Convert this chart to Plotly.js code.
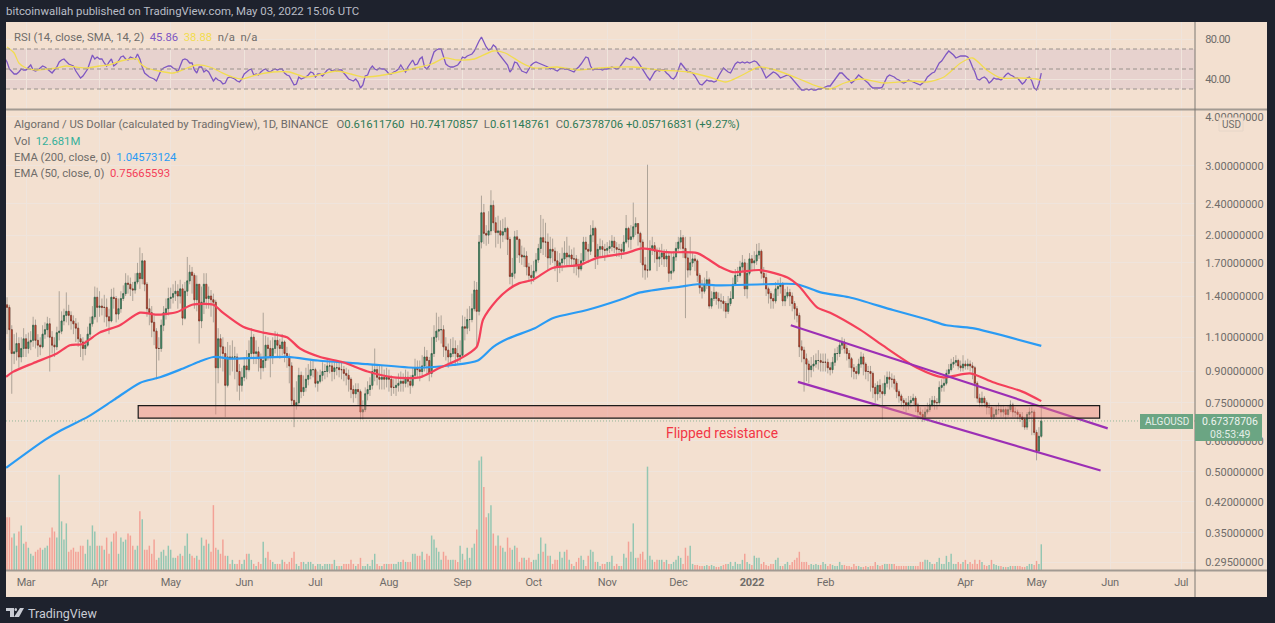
<!--Algorand / US Dollar daily chart, TradingView look, drawn with Plotly-->
<html>
<head>
<script src="https://cdn.plot.ly/plotly-3.0.1.min.js"></script>
<style>
body{margin:0;background:#1e222d;}
/* the reference axis digits are narrower than any installed font */
.yaxislayer-above text{letter-spacing:-0.6px;}
.xaxislayer-above text{letter-spacing:-0.2px;}
</style>
</head>
<body>
<div id="chart"></div>
<script>
// Daily candles, first one is 2021-02-20, one value per day, one line per month
var firstDay = "2021-02-20";
var firstOpen = 1.30;
var closes = [
1.33,1.31,1.15,1.00,1.01,1.06,.98,1.03,1.09,
1.03,1.07,1.08,1.18,1.08,1.05,1.04,1.12,1.15,1.19,1.10,1.05,1.04,1.13,1.14,1.21,1.25,1.28,1.25,1.21,1.19,1.16,1.09,1.07,1.03,1.05,1.12,1.19,1.24,1.39,1.31,
1.32,1.31,1.31,1.24,1.21,1.39,1.38,1.26,1.30,1.38,1.42,1.51,1.50,1.46,1.45,1.52,1.60,1.55,1.72,1.50,1.30,1.27,1.20,1.14,1.03,1.03,1.18,1.27,1.30,1.38,
1.39,1.42,1.44,1.40,1.46,1.23,1.44,1.53,1.61,1.58,1.37,1.50,1.21,1.35,1.50,1.38,1.40,1.37,1.35,.92,1.09,1.04,1.00,.83,.98,.97,.98,.98,.90,.83,
.87,.93,.91,1.00,1.10,1.00,1.01,.97,.92,.96,1.05,1.03,.98,1.03,1.08,1.05,1.03,1.07,1.00,.98,.93,.76,.74,.75,.88,.80,.82,.86,.88,
.91,.91,.84,.85,.88,.90,.90,.93,.93,.90,.92,.92,.91,.91,.89,.88,.86,.81,.79,.81,.80,.71,.72,.79,.81,.83,.90,.91,.87,.86,.87,
.86,.87,.86,.82,.82,.83,.84,.85,.84,.87,.85,.83,.88,.92,.91,.90,.93,.98,.96,.89,1.00,1.10,1.14,1.15,1.15,1.04,1.02,.98,1.00,1.03,1.00,.98,.99,
1.17,1.16,1.22,1.22,1.30,1.45,1.28,1.92,2.28,2.02,2.00,2.05,2.38,2.15,2.03,2.05,2.00,2.04,2.08,1.95,1.57,1.60,1.98,1.95,1.78,1.76,1.77,1.66,1.58,1.56,
1.62,1.73,1.85,1.97,1.92,1.92,1.75,1.84,1.82,1.72,1.66,1.70,1.74,1.80,1.76,1.78,1.74,1.74,1.68,1.64,1.72,1.92,1.84,1.82,2.00,2.08,1.76,1.84,1.87,1.84,1.83,
1.85,1.87,1.93,1.86,1.84,1.84,1.82,1.92,2.08,1.95,1.98,2.10,2.14,2.02,1.92,1.68,1.63,1.63,1.85,1.88,1.82,1.74,1.76,1.80,1.74,1.77,1.60,1.62,1.76,1.85,
1.92,1.97,1.85,1.75,1.63,1.70,1.74,1.72,1.58,1.47,1.44,1.50,1.54,1.32,1.38,1.43,1.38,1.36,1.36,1.34,1.28,1.34,1.38,1.50,1.58,1.58,1.66,1.70,1.46,1.60,1.74,
1.70,1.72,1.78,1.82,1.60,1.56,1.46,1.42,1.38,1.36,1.46,1.48,1.50,1.36,1.40,1.43,1.40,1.34,1.30,1.25,1.04,1.02,.97,.94,.91,.93,.94,.96,.96,.95,.95,
.95,.92,.91,.95,1.00,1.00,1.05,1.07,1.03,1.00,.97,.92,.90,.89,.94,.98,.94,.90,.90,.89,.82,.79,.83,.80,.79,.84,.87,.86,
.86,.84,.80,.78,.76,.75,.74,.75,.76,.77,.74,.71,.70,.69,.71,.72,.74,.76,.75,.75,.82,.83,.84,.89,.91,.94,.95,.96,.93,.92,.94,
.93,.94,.93,.92,.84,.77,.75,.77,.75,.73,.73,.69,.70,.72,.72,.71,.72,.70,.72,.74,.71,.71,.70,.69,.68,.65,.70,.71,.71,.63,
.565,.616,.674];
var highs = [
1.42,1.39,1.33,1.18,1.12,1.13,1.10,1.10,1.16,
1.12,1.13,1.14,1.24,1.22,1.12,1.10,1.18,1.20,1.24,1.23,1.14,1.10,1.17,1.44,1.28,1.30,1.43,1.33,1.28,1.25,1.23,1.20,1.12,1.10,1.08,1.17,1.24,1.32,1.48,1.47,
1.44,1.38,1.41,1.38,1.30,1.46,1.47,1.40,1.38,1.44,1.49,1.60,1.58,1.56,1.52,1.60,1.70,1.86,1.80,1.72,1.52,1.38,1.32,1.25,1.16,1.10,1.22,1.32,1.38,1.47,
1.47,1.50,1.53,1.50,1.54,1.50,1.52,1.76,1.68,1.66,1.60,1.58,1.50,1.48,1.60,1.60,1.48,1.45,1.42,1.37,1.16,1.12,1.10,1.04,1.07,1.05,1.08,1.04,1.00,.94,
.92,.98,1.02,1.08,1.16,1.12,1.08,1.04,1.00,1.27,1.11,1.10,1.08,1.10,1.14,1.13,1.09,1.12,1.08,1.04,1.00,.95,.82,.85,.92,.90,.88,.92,.94,
.96,.96,.92,.90,.91,.95,.94,.97,.96,.95,.95,.96,.95,.95,.93,.92,.91,.87,.83,.84,.84,.81,.76,.82,.85,.87,.94,1.03,.94,.93,.93,
.91,.92,.91,.88,.86,.87,.89,.90,.89,.91,.90,.88,.92,.97,.96,.96,.99,1.04,1.02,.98,1.10,1.18,1.27,1.24,1.25,1.18,1.10,1.06,1.09,1.10,1.08,1.05,1.08,
1.25,1.24,1.30,1.32,1.42,1.53,1.52,2.00,2.52,2.40,2.12,2.30,2.60,2.45,2.22,2.24,2.18,2.20,2.22,2.10,1.98,1.75,2.05,2.06,1.96,1.88,1.86,1.82,1.70,1.68,
1.72,1.80,1.90,2.25,2.20,2.15,2.02,1.98,1.96,1.86,1.82,1.80,1.86,1.93,1.98,1.88,1.84,1.86,1.78,1.74,1.80,1.98,1.98,1.90,2.12,2.18,2.10,1.90,1.96,1.94,1.90,
1.92,1.94,2.00,1.98,1.92,1.90,1.90,2.00,2.25,2.10,2.12,2.42,2.22,2.14,2.04,1.95,1.76,3.02,1.94,1.98,1.92,1.86,1.86,1.90,1.84,1.84,1.82,1.80,1.82,1.92,
1.98,2.06,2.00,1.98,1.80,1.98,1.80,1.78,1.74,1.60,1.54,1.56,1.62,1.56,1.44,1.48,1.44,1.43,1.42,1.40,1.36,1.40,1.44,1.56,1.64,1.66,1.72,1.78,1.74,1.70,1.80,
1.78,1.82,1.90,1.91,1.84,1.66,1.60,1.48,1.44,1.42,1.52,1.54,1.56,1.52,1.46,1.48,1.46,1.43,1.36,1.32,1.27,1.08,1.04,1.00,.96,.98,.99,1.00,1.02,1.00,1.00,
1.00,.97,.95,.98,1.03,1.04,1.08,1.10,1.09,1.05,1.02,.98,.94,.93,.97,1.01,1.00,.95,.93,.93,.90,.84,.85,.86,.84,.88,.90,.90,
.89,.88,.85,.81,.79,.77,.77,.78,.78,.79,.78,.75,.73,.72,.73,.75,.77,.78,.78,.77,.85,.86,.87,.91,.94,.97,.98,.99,.97,.96,.99,
.96,.97,.96,.95,.93,.85,.79,.80,.78,.76,.75,.73,.73,.74,.75,.74,.74,.73,.74,.76,.75,.73,.72,.71,.71,.69,.71,.73,.73,.72,
.64,.65,.742];
var lows = [
1.22,1.12,1.02,.79,.94,.96,.92,.95,.98,
.98,1.00,1.02,1.04,1.03,.98,.99,1.03,1.09,1.10,.90,1.00,.98,1.02,1.08,1.12,1.18,1.20,1.18,1.15,1.12,1.07,1.04,.98,.96,.99,1.04,1.10,1.17,1.22,1.20,
1.24,1.25,1.20,1.17,1.12,1.20,1.30,1.20,1.22,1.27,1.36,1.40,1.42,1.40,1.36,1.42,1.50,1.46,1.50,1.44,1.24,1.18,1.10,1.05,.86,.96,1.01,1.14,1.22,1.25,
1.30,1.34,1.36,1.30,1.34,1.18,1.22,1.40,1.50,1.42,1.30,1.28,1.06,1.16,1.26,1.30,1.30,1.24,1.20,.70,.84,.92,.90,.69,.82,.88,.90,.86,.80,.76,
.80,.85,.86,.90,.98,.94,.94,.90,.86,.90,.92,.96,.87,.94,1.00,.98,.97,.99,.95,.92,.84,.74,.65,.72,.74,.77,.78,.80,.83,
.86,.87,.82,.80,.84,.85,.86,.87,.89,.85,.86,.88,.87,.86,.85,.83,.80,.77,.75,.77,.74,.68,.68,.71,.76,.78,.81,.85,.83,.81,.81,
.81,.82,.80,.78,.79,.78,.80,.80,.80,.82,.82,.79,.82,.86,.87,.85,.87,.90,.88,.85,.87,.98,1.07,1.08,1.06,.98,.96,.92,.95,.98,.93,.94,.95,
1.10,1.08,1.12,1.14,1.20,1.28,1.03,1.25,1.85,1.90,1.88,1.90,2.00,2.05,1.86,1.90,1.85,1.92,1.95,1.78,1.50,1.48,1.55,1.75,1.70,1.68,1.66,1.58,1.52,1.50,
1.52,1.60,1.70,1.80,1.78,1.76,1.62,1.68,1.70,1.62,1.52,1.60,1.62,1.68,1.66,1.68,1.66,1.60,1.58,1.56,1.62,1.70,1.72,1.70,1.78,1.92,1.64,1.68,1.76,1.76,1.72,
1.78,1.80,1.82,1.80,1.76,1.76,1.74,1.78,1.90,1.86,1.84,1.95,2.00,1.88,1.70,1.56,1.54,1.56,1.62,1.78,1.70,1.62,1.66,1.68,1.66,1.66,1.52,1.54,1.60,1.72,
1.82,1.84,1.75,1.23,1.56,1.58,1.66,1.62,1.52,1.42,1.38,1.42,1.46,1.30,1.30,1.36,1.33,1.30,1.30,1.28,1.23,1.26,1.32,1.38,1.50,1.52,1.56,1.62,1.40,1.38,1.58,
1.62,1.62,1.68,1.74,1.55,1.50,1.40,1.34,1.30,1.30,1.34,1.40,1.42,1.32,1.32,1.38,1.32,1.28,1.22,1.20,.98,.95,.80,.85,.84,.87,.90,.92,.91,.90,.90,
.90,.89,.88,.89,.93,.96,.98,1.02,1.00,.96,.92,.87,.86,.86,.88,.92,.88,.86,.85,.80,.77,.75,.76,.77,.68,.78,.82,.81,
.82,.81,.77,.75,.73,.72,.71,.72,.73,.74,.71,.68,.68,.67,.68,.70,.71,.73,.72,.72,.74,.80,.80,.83,.87,.90,.92,.93,.91,.90,.90,
.91,.91,.90,.86,.77,.75,.73,.73,.73,.70,.70,.68,.68,.69,.70,.69,.69,.68,.69,.71,.69,.69,.68,.67,.65,.64,.64,.68,.62,.62,
.535,.56,.611];

// Volume in millions, same days
var volumes = [
14,26,26,16,18,12,19,22,13,
14,11,8,7,9,10,11,10,11,12,16,21,19,16,47,24,15,23,9,10,11,9,9,12,12,8,15,12,22,19,12,
12,12,10,16,8,14,18,19,8,16,14,15,18,17,12,10,12,29,25,10,10,12,8,15,5,6,9,10,7,12,
10,6,6,7,8,7,12,18,8,7,6,7,5,16,12,15,13,9,32,11,10,8,15,7,7,3,5,3,3,5,3,
5,8,8,5,3,2,4,3,14,6,9,5,4,3,3,3,5,4,3,4,6,9,3,2,4,4,3,4,4,3,
2,3,3,2,3,3,3,3,5,2,2,2,3,3,3,5,3,2,3,6,2,2,3,2,5,8,3,2,2,3,3,
3,3,3,3,4,4,5,4,4,4,8,8,7,7,9,5,8,7,17,15,11,9,5,9,7,5,5,5,5,4,12,
8,5,11,6,11,13,20,54,56,41,26,28,32,18,12,17,12,11,9,16,11,10,12,11,4,6,6,5,6,4,
5,5,8,16,9,13,7,7,3,5,5,9,6,9,10,5,3,2,4,6,7,5,2,7,10,9,4,4,2,3,3,
4,4,7,2,3,2,2,8,6,14,9,23,6,6,8,9,5,51,7,5,4,5,5,5,4,5,3,3,4,5,
7,6,3,11,7,12,3,2.5,2.5,2,2,2,2.5,2,2.5,2,1.5,1.5,2,2.5,3,3,4,2,4,3,3,5,8,4,3,
2.5,7,6,6,3,4,2.5,2,3,3,5,6,2,2,3,4,2.5,4,5,6,9,4,4,4,2.5,3,2.5,3,2.5,2.5,4,
3,2,3,2.5,2,2,4,2.5,2.5,2,2,1.5,3,2,2,1.5,1.5,2,1.5,2,2,4,2.5,2,2.5,3,3,3,
3,3,2,2,2,2,2,2,2,2,2,2,4,4,5,5,4,3,3,4,6,3,3,7,4,8,3,3,4,3,4,
5,3,4,3,5,3,5,4,2.5,2,2.5,5,3,2.5,2,2,1.5,1.5,1.5,2,2,2,2,2,1.5,1.5,2,3,3,2.5,
4.5,3,12.681];

// RSI, same days
var rsi = [
61,57,50,47,45,45,47,50,49,
49,52,54,49,48,49,51,53,52,50,48,46,49,52,57,59,60,57,55,54,53,48,44,41,43,46,50,57,64,60,62,
60,60,56,53,57,60,53,55,58,62,63,60,59,62,61,60,65,60,52,46,44,42,41,40,38,43,49,51,52,53,
53,51,50,47,53,59,60,59,56,56,49,46,52,52,47,49,47,43,38,41,39,38,35,36,41,42,41,40,38,37,40,
45,47,49,50,44,45,44,47,49,50,48,47,49,50,49,50,50,46,44,43,39,34,35,42,40,41,42,44,47,46,
42,45,45,43,46,49,50,48,49,48,49,49,46,43,40,39,38,40,37,31,34,43,44,50,53,50,49,51,50,50,48,
45,45,47,48,50,54,50,47,52,55,59,54,55,60,62,52,50,53,61,67,69,70,70,62,55,53,52,52,53,54,57,
62,61,63,64,65,68,74,78,82,76,72,69,70,74,72,66,63,61,58,54,47,50,57,56,52,48,47,46,50,54,
56,57,56,55,54,53,52,50,51,49,48,50,51,50,50,49,48,47,50,52,55,59,62,61,53,49,50,50,50,49,50,
50,51,52,51,50,51,54,58,61,60,59,62,60,57,53,50,46,42,39,43,47,49,48,49,49,46,44,41,40,43,
50,56,53,50,47,47,46,43,39,35,34,37,39,38,38,37,38,43,47,51,49,47,46,50,55,57,56,57,56,57,56,
57,58,57,54,51,46,41,43,45,47,46,44,41,42,43,44,43,40,37,34,31,29,29,30,29,30,29,29,30,30,31,
32,33,33,36,39,43,46,46,43,41,39,36,38,41,44,42,40,38,36,33,31,31,31,31,32,37,42,44,
43,42,40,39,37,36,37,39,38,37,36,35,34,36,38,42,44,46,47,52,56,58,62,65,68,66,64,61,62,63,63,
63,62,58,52,47,40,39,41,42,40,36,38,41,40,40,39,41,44,46,44,43,41,41,38,35,37,41,42,38,31,
29,35,45.86];

// Lines read at sample points, days counted from 2021-03-01
var rsiMaDays = [-8,-5,-3,0,4.5,9,13,17,21,25.5,31,35,40,47,48,51,56,62,68,72,77.5,82,87,91,97,104,111,118,125,131,137,142,148,153,159,166,171,176.5,182,189,197,202,209,214,224,233,242,256,267,279,288,295,302,309,316,325,332,339,345,352,362,373,380,387,394,399,405,411,419,426,428];
var rsiMa = [72,66,56,51,49,50,51,53,52,51,53,54,58,60,56,51,48,46,51,54,52,47,42,40,44,47,47,42,45,48,45,42,43,45,48,52,55,61,59,60,68,66,56,51,52,49,51,52,49,47,42,37,44,52,49,41,34,30,36,40,36,38,37,42,56,61,49,41,41,40,38.88];

var ema200Days = [-8.4,8,15,26,37,48,56.5,65,73,79,87,110,123,144,165,180,190.5,197,203,214.5,222,236.5,250.5,259,276,283,292.5,311,325,335,347,365.5,380,388,399,428];
var ema200 = [.512,.603,.639,.69,.762,.842,.87,.91,.953,.98,.97,.98,.96,.94,.92,.935,.96,1.04,1.09,1.16,1.23,1.29,1.37,1.43,1.48,1.50,1.49,1.50,1.50,1.43,1.39,1.29,1.22,1.18,1.16,1.04573];

var ema50Days = [-8.4,-5.5,3,13,18.5,23.6,31,39.6,48,55,63.7,70,79,83,91.5,100,110,115.5,124,133.6,144,155,166,174.5,183,190,192.7,198.6,203,208,213.7,222,233.6,240.7,253,259.7,270,283,292.6,298,309.4,321,326,333.5,339,351.6,361,375.6,386.6,398,407.7,420,428];
var ema50 = [.872,.898,.945,1.0,1.05,1.056,1.13,1.18,1.27,1.255,1.275,1.33,1.33,1.27,1.17,1.13,1.10,1.03,.98,.95,.90,.87,.87,.92,.97,1.04,1.22,1.37,1.45,1.51,1.54,1.65,1.68,1.75,1.80,1.85,1.81,1.80,1.66,1.61,1.63,1.56,1.48,1.31,1.27,1.15,1.05,.92,.87,.89,.845,.80,.7567];

// Drawn channel lines
var upperDays = [322.4,456];
var upperLine = [1.18,.645];
var lowerDays = [325.4,453];
var lowerLine = [.847,.504];

// Zone and last price
var zoneDays = [47.3,452.6];
var zonePrices = [.685,.737];
var lastPrice = .67378706;

var priceTicks = [.295,.35,.42,.5,.6,.75,.9,1.1,1.4,1.7,2,2.4,3,4];
var rsiTicks = [40,80];
var rsiLevels = [30,50,70];
var monthDates = ["2021-03-01","2021-04-01","2021-05-01","2021-06-01","2021-07-01","2021-08-01","2021-09-01","2021-10-01","2021-11-01","2021-12-01","2022-01-01","2022-02-01","2022-04-01","2022-05-01","2022-06-01","2022-07-01"];
var monthLabels = ["Mar","Apr","May","Jun","Jul","Aug","Sep","Oct","Nov","Dec","<b>2022</b>","Feb","Apr","May","Jun","Jul"];

var W = 1275, H = 623;
var textFont = "Roboto, sans-serif";
var grey = "#6f6c69", gridColor = "#efe4dc", tagColor = "#6ba583";

//Pixel to paper coordinates, the layout below is placed by pixel
function px(x) { return x / W; }
function py(y) { return 1 - y / H; }
function fromDays(d) { return new Date(Date.UTC(2021, 2, 1) + d * 864e5).toISOString(); }

var dates = [], opens = [], bodyHigh = [], bodyLow = [], volColors = [];
for (var i = 0; i < closes.length; i++) {
    dates.push(new Date(Date.parse(firstDay) + i * 864e5).toISOString());
    opens.push(i == 0 ? firstOpen : closes[i - 1]);
    bodyHigh.push(Math.max(opens[i], closes[i]));
    bodyLow.push(Math.min(opens[i], closes[i]));
    volColors.push(closes[i] >= opens[i] ? "#93c6b2" : "#f3a196");
}
var startX = fromDays(-8.43), endX = fromDays(492.8);

var volTrace = { type: "bar", x: dates, y: volumes, xaxis: "x", yaxis: "y", marker: {color: volColors, line: {width: 0}} };
var wickTrace = { type: "candlestick", x: dates, open: opens, close: closes, high: highs, low: lows, xaxis: "x", yaxis: "y3", whiskerwidth: 0,
    increasing: {line: {color: "rgba(90,90,85,0.45)", width: 1}, fillcolor: "rgba(0,0,0,0)"},
    decreasing: {line: {color: "rgba(90,90,85,0.45)", width: 1}, fillcolor: "rgba(0,0,0,0)"} };
var bodyTrace = { type: "candlestick", x: dates, open: opens, close: closes, high: bodyHigh, low: bodyLow, xaxis: "x", yaxis: "y3", whiskerwidth: 0,
    increasing: {line: {color: "#28573f", width: 0.5}, fillcolor: "#3f9068"},
    decreasing: {line: {color: "#6e2a1c", width: 0.5}, fillcolor: "#d8452e"} };

function line(days, vals, color, width, yaxis, xaxis) {
    return { type: "scatter", mode: "lines", x: days.map(fromDays), y: vals, xaxis: xaxis || "x", yaxis: yaxis,
        line: {color: color, width: width, shape: "spline", smoothing: 0.7}, hoverinfo: "skip" };
}
var traces = [volTrace, wickTrace, bodyTrace,
    line(ema200Days, ema200, "#2a9bf4", 2.2, "y3"),
    line(ema50Days, ema50, "#f4405a", 2.2, "y3"),
    line(upperDays, upperLine, "#9c2fb5", 2.2, "y3"),
    line(lowerDays, lowerLine, "#9c2fb5", 2.2, "y3"),
    { type: "scatter", mode: "lines", x: dates, y: rsi, xaxis: "x2", yaxis: "y2", line: {color: "#7e57c2", width: 1.3} },
    line(rsiMaDays, rsiMa, "#f2dc50", 1.3, "y2", "x2")
];

var shapes = [
    // panel behind everything
    {type: "rect", xref: "paper", yref: "paper", x0: px(6), x1: px(1267), y0: py(597), y1: py(22), fillcolor: "#f3e0d0", line: {width: 0}, layer: "below"},
    // RSI band and levels
    {type: "rect", xref: "x2", yref: "y2", x0: startX, x1: endX, y0: rsiLevels[0], y1: rsiLevels[2], fillcolor: "rgba(126,87,194,0.10)", line: {width: 0}, layer: "below"},
    // zone
    {type: "rect", xref: "x", yref: "y3", x0: fromDays(zoneDays[0]), x1: fromDays(zoneDays[1]), y0: zonePrices[0], y1: zonePrices[1], fillcolor: "rgba(236,130,125,0.42)", line: {color: "#1b1b1b", width: 1.2}},
    // last price dots
    {type: "line", xref: "x", yref: "y3", x0: startX, x1: endX, y0: lastPrice, y1: lastPrice, line: {color: "rgba(107,165,131,0.7)", width: 1, dash: "1px,2px"}},
    // pane borders
    {type: "line", xref: "paper", yref: "paper", x0: px(6), x1: px(1267), y0: py(109.5), y1: py(109.5), line: {color: "#a29a92", width: 2}},
    {type: "line", xref: "paper", yref: "paper", x0: px(6), x1: px(1267), y0: py(570.5), y1: py(570.5), line: {color: "#a29a92", width: 2}},
    {type: "line", xref: "paper", yref: "paper", x0: px(1195), x1: px(1195), y0: py(22), y1: py(597), line: {color: "#7d7973", width: 1}},
    // price tags
    {type: "rect", xref: "paper", yref: "paper", x0: px(1140), x1: px(1193), y0: py(414), y1: py(429), fillcolor: tagColor, line: {width: 0}},
    {type: "rect", xref: "paper", yref: "paper", x0: px(1195), x1: px(1262), y0: py(414), y1: py(441), fillcolor: tagColor, line: {width: 0}},
    {type: "rect", xref: "paper", yref: "paper", x0: px(1219), x1: px(1243), y0: py(118), y1: py(131), fillcolor: "#f3e0d0", line: {color: "#e6d6c8", width: 1}},
    // logo
    {type: "path", xref: "paper", yref: "paper", fillcolor: "#c9ccd4", line: {width: 0},
        path: "M" + px(6) + "," + py(608) + "L" + px(14) + "," + py(608) + "L" + px(14) + "," + py(617) + "L" + px(10) + "," + py(617) + "L" + px(10) + "," + py(611) + "L" + px(6) + "," + py(611) + "Z"},
    {type: "circle", xref: "paper", yref: "paper", x0: px(14.5), x1: px(17), y0: py(611), y1: py(608), fillcolor: "#c9ccd4", line: {width: 0}},
    {type: "path", xref: "paper", yref: "paper", fillcolor: "#c9ccd4", line: {width: 0},
        path: "M" + px(20) + "," + py(608) + "L" + px(24) + "," + py(608) + "L" + px(19) + "," + py(617) + "L" + px(14) + "," + py(617) + "Z"}
];
rsiLevels.forEach(function (v) {
    shapes.push({type: "line", xref: "x2", yref: "y2", x0: startX, x1: endX, y0: v, y1: v, line: {color: "#9a928c", width: 1.2, dash: "4px,3px"}});
});

function span(color, s) { return '<span style="color:' + color + '">' + s + '</span>'; }
function label(x, y, text, size, color, anchor) {
    return { xref: "paper", yref: "paper", x: px(x), y: py(y), text: text, showarrow: false, xanchor: anchor || "left", yanchor: "middle",
        align: "left", borderpad: 0, font: {family: textFont, size: size, color: color} };
}
var ohlc = "#2d7a56", legendSize = 11.3;
var annotations = [
    label(5, 11, "bitcoinwallah published on TradingView.com, May 03, 2022 15:06 UTC", 11.4, "#b9bdc6"),
    label(13, 37, "RSI (14, close, SMA, 14, 2)&nbsp;&nbsp;" + span("#7e57c2", "45.86") + "&nbsp;&nbsp;" + span("#f2dc50", "38.88") + "&nbsp;&nbsp;n/a&nbsp;&nbsp;n/a", legendSize, grey),
    label(13, 125, "Algorand / US Dollar (calculated by TradingView), 1D, BINANCE&nbsp;&nbsp;&nbsp;O" + span(ohlc, "0.61611760") + "&nbsp;&nbsp;H" + span(ohlc, "0.74170857") + "&nbsp;&nbsp;L" + span(ohlc, "0.61148761") + "&nbsp;&nbsp;C" + span(ohlc, "0.67378706") + "&nbsp;" + span(ohlc, "+0.05716831 (+9.27%)"), legendSize, grey),
    label(13, 141, "Vol&nbsp;&nbsp;" + span("#35b09a", "12.681M"), legendSize, grey),
    label(13, 157, "EMA (200, close, 0)&nbsp;&nbsp;" + span("#2a9bf4", "1.04573124"), legendSize, grey),
    label(13, 173, "EMA (50, close, 0)&nbsp;&nbsp;" + span("#f4405a", "0.75665593"), legendSize, grey),
    label(665, 433, "Flipped resistance", 13.8, "#f23645"),
    label(1166.5, 421.5, "ALGOUSD", 10, "#e6efe9", "center"),
    label(1230, 421.5, "0.67378706", 10.5, "#eef4f0", "center"),
    label(1230, 434, "08:53:49", 10.5, "#e3ede7", "center"),
    label(1231, 124.5, "USD", 10, grey, "center"),
    label(27, 613, "TradingView", 12.5, "#c9ccd4")
];

var mainTop = py(110), mainBottom = py(570);
var monthAxis = { type: "date", range: [startX, endX], tickmode: "array", tickvals: monthDates, showgrid: true, gridcolor: gridColor, gridwidth: 1, zeroline: false, showline: false, rangeslider: {visible: false} };
var layout = {
    width: W, height: H, autosize: false, margin: {l: 0, r: 0, t: 0, b: 0},
    paper_bgcolor: "#1e222d", plot_bgcolor: "rgba(0,0,0,0)",
    showlegend: false, hovermode: false, bargap: 0.38, boxgap: 0.3,
    font: {family: textFont},
    xaxis: Object.assign({}, monthAxis, { domain: [px(6), px(1195)], anchor: "y", ticktext: monthLabels, ticks: "outside", ticklen: 2, tickcolor: "rgba(0,0,0,0)", tickfont: {family: textFont, size: 11, color: grey} }),
    xaxis2: Object.assign({}, monthAxis, { domain: [px(6), px(1195)], anchor: "y2", matches: "x", showticklabels: false }),
    yaxis: { domain: [mainBottom, mainTop], range: [0, 227], showticklabels: false, showgrid: false, zeroline: false, anchor: "x" },
    yaxis3: { type: "log", overlaying: "y", side: "right", anchor: "x", range: [Math.log10(.2816), Math.log10(4.16)], tickmode: "array", tickvals: priceTicks,
        ticktext: priceTicks.map(function (v) { return v.toFixed(8); }), showgrid: true, gridcolor: gridColor, zeroline: false, showline: false,
        ticks: "outside", ticklen: 7, tickcolor: "rgba(0,0,0,0)", tickfont: {family: textFont, size: 11, color: grey} },
    yaxis2: { domain: [py(109), py(22)], anchor: "x2", side: "right", range: [10, 97], tickmode: "array", tickvals: rsiTicks,
        ticktext: rsiTicks.map(function (v) { return v.toFixed(2); }), showgrid: true, gridcolor: gridColor, zeroline: false, showline: false,
        ticks: "outside", ticklen: 7, tickcolor: "rgba(0,0,0,0)", tickfont: {family: textFont, size: 11, color: grey} },
    shapes: shapes,
    annotations: annotations
};
Plotly.newPlot("chart", traces, layout, {staticPlot: true, displayModeBar: false});
</script>
</body>
</html>
